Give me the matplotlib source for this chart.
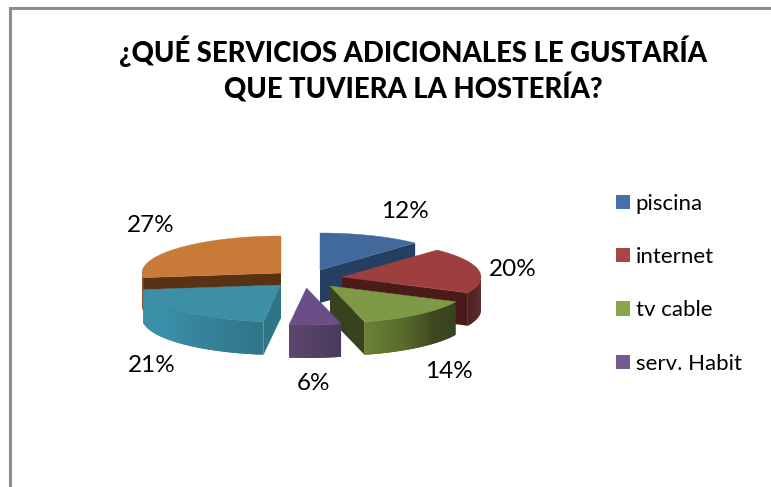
import numpy as np
import matplotlib
matplotlib.use("Agg")
import matplotlib.pyplot as plt
from matplotlib.patches import Polygon, Patch
from matplotlib.colors import to_rgb

# data
categories = ["piscina", "internet", "tv cable", "serv. Habit", "otros 1", "otros 2"]
values = [12, 20, 14, 6, 21, 27]
legend_count = 4
title = "¿QUÉ SERVICIOS ADICIONALES LE GUSTARÍA\nQUE TUVIERA LA HOSTERÍA?"

# style
top_colors = ["#41699b", "#9c3f3e", "#7f9a47", "#6b4e87", "#3d8fa6", "#c97a38"]
cut_colors = ["#243f61", "#4a1b19", "#38421f", "#4a3a5e", "#2f7586", "#593214"]
wall_stops = [["#243f61", "#243f61"],
              ["#4a1b19", "#4a1b19"],
              ["#38421f", "#3d4820", "#5a6c2e", "#6c8136"],
              ["#4a3a5e", "#5c466d"],
              ["#2f7586", "#35829a", "#3a90a8", "#3c8ea4"],
              ["#8a5226", "#8a5226"]]
legend_colors = ["#4471a8", "#a94543", "#8aa64d", "#75598f"]
apex_x = [320, 342, 330, 306.5, 281, 281]
apex_y = [270, 277, 286, 288, 285, 273]
label_x = [405, 513, 449, 314, 152, 151]
label_y = [211, 270, 372, 383, 365, 225]
draw_order = [0, 5, 1, 2, 4, 3]
RX, RY, DEPTH = 139, 37, 33

plt.rcParams["font.family"] = ["Lato", "DejaVu Sans"]
fig = plt.figure(figsize=(7.71, 4.87), dpi=100, facecolor="white")
ax = fig.add_axes([0, 0, 1, 1])
ax.set_xlim(0, 771)
ax.set_ylim(487, 0)
ax.axis("off")

# outer frame
ax.plot([9.5, 9.5, 771], [487, 8, 8], color="#8e8e8e", lw=2.2, solid_joinstyle="miter")


def rim(cx, cy, deg):
    r = np.radians(deg)
    return cx + RX * np.sin(r), cy - RY * np.cos(r)


def stop_color(stops, f):
    f = f * (len(stops) - 1)
    i = min(int(f), len(stops) - 2)
    t = f - i
    a, b = np.array(to_rgb(stops[i])), np.array(to_rgb(stops[i + 1]))
    return tuple(a + (b - a) * t)


def add_poly(pts, color, z, lw=0.0):
    ax.add_patch(Polygon(pts, closed=True, facecolor=color, edgecolor=color, lw=lw, zorder=z))


bounds = np.concatenate([[0], np.cumsum(values)]) / sum(values) * 360
for rank, i in enumerate(draw_order):
    z = 2 + rank
    cx, cy = apex_x[i], apex_y[i]
    a0, a1 = bounds[i], bounds[i + 1]
    # radial cut walls that face the viewer
    walls = []
    if np.sin(np.radians(a1)) > 1e-6:
        walls.append(a1)
    if np.sin(np.radians(a0)) < -1e-6:
        walls.append(a0)
    for deg in walls:
        x, y = rim(cx, cy, deg)
        add_poly([(cx, cy), (x, y), (x, y + DEPTH), (cx, cy + DEPTH)], cut_colors[i], z)
    # outer wall strips on the front half (each overlaps the next to avoid seams)
    s0, s1 = max(a0, 90), min(a1, 270)
    if s1 > s0:
        edges = np.linspace(s0, s1, 60)
        for k in range(len(edges) - 1):
            hi = edges[min(k + 2, len(edges) - 1)]
            x0, y0 = rim(cx, cy, edges[k])
            xm, ym = rim(cx, cy, edges[k + 1])
            x1, y1 = rim(cx, cy, hi)
            col = stop_color(wall_stops[i], (k + 0.5) / (len(edges) - 1))
            add_poly([(x0, y0), (xm, ym), (x1, y1), (x1, y1 + DEPTH), (xm, ym + DEPTH), (x0, y0 + DEPTH)],
                     col, z)
    # top face
    arc = np.linspace(a0, a1, 80)
    pts = [(cx, cy)] + [rim(cx, cy, d) for d in arc]
    add_poly(pts, top_colors[i], z, lw=0.3)

# percent labels
for v, x, y in zip(values, label_x, label_y):
    ax.text(x, y, f"{v}%", ha="center", va="center", fontsize=17.5, color="black", zorder=20)

ax.text(413, 69.5, title, ha="center", va="center", fontsize=19.8, fontweight=900,
        color="black", linespacing=1.25, zorder=20)

handles = [Patch(facecolor=c, edgecolor="none") for c in legend_colors]
ax.legend(handles, categories[:legend_count], loc="upper left",
          bbox_to_anchor=(609 / 771, 1 - 187 / 487), frameon=False, fontsize=16,
          handlelength=0.63, handleheight=0.63, handletextpad=0.27, labelspacing=1.5,
          borderpad=0.3, borderaxespad=0)

fig.savefig("out.png", dpi=100, facecolor="white")
